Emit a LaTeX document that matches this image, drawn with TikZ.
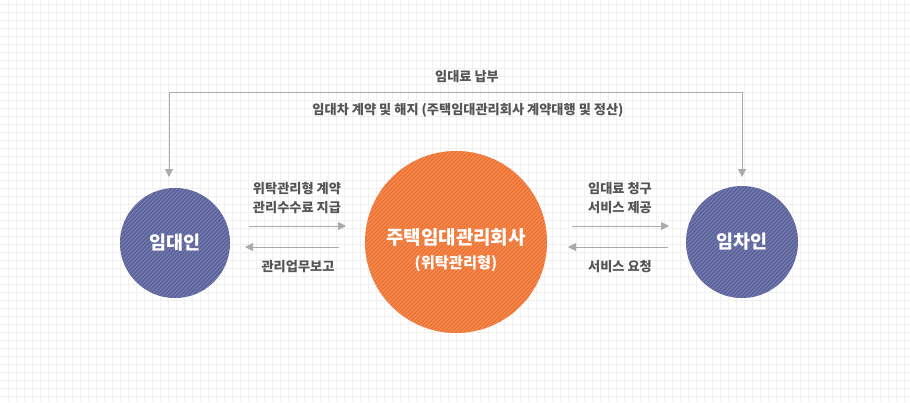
\documentclass[tikz,border=0pt]{standalone}
\usepackage{fontspec}
\newfontfamily\kr{Noto Sans CJK KR}
\usetikzlibrary{arrows.meta,calc}
\definecolor{gridc}{HTML}{F0F0F0}
\definecolor{txt}{HTML}{555555}
\definecolor{arrc}{HTML}{ABABAB}
\definecolor{bluec}{HTML}{5A619A}
\definecolor{bluel}{HTML}{7A80B0}
\definecolor{orc}{HTML}{EE7232}
\definecolor{orl}{HTML}{F4925A}
\begin{document}
\begin{tikzpicture}[x=1pt,y=-1pt,
  lbl/.style={font=\kr\bfseries\fontsize{13.2}{19}\selectfont, text=txt, align=center, inner sep=0pt},
  arr/.style={draw=arrc, line width=1pt, -{Triangle[width=8pt,length=8pt]}},
  hatch/.style={path picture={
     \foreach \s in {-220,-216,...,220}
       \draw[#1, line width=0.8pt] ($(path picture bounding box.center)+(\s-110,110)$) -- ++(220,-220);}},
  party/.style={circle, inner sep=0pt, text=white, font=\kr\bfseries\fontsize{18.5}{20}\selectfont}
]
\useasboundingbox (0,0) rectangle (910,402);
\fill[white] (0,0) rectangle (910,402);
\foreach \x in {8,16,...,904} \draw[gridc, line width=0.9pt] (\x,0) -- (\x,402);
\foreach \y in {4,12,...,400} \draw[gridc, line width=0.9pt] (0,\y) -- (910,\y);

\node[party, minimum size=110pt, fill=bluec, hatch=bluel] (landlord) at (175,243) {임대인};
\node[party, minimum size=112pt, fill=bluec, hatch=bluel] (tenant) at (742,242) {임차인};
\node[circle, inner sep=0pt, minimum size=182pt, fill=orc, hatch=orl] (company) at (456,242) {};
\node[text=white, font=\kr\bfseries\fontsize{19}{20}\selectfont, inner sep=0pt] (cname) at (456,237) {주택임대관리회사};
\node[text=white, font=\kr\bfseries\fontsize{15.3}{16}\selectfont, inner sep=0pt] (csub) at (456,264) {(위탁관리형)};

% top connector
\coordinate (lt) at (169,177);
\coordinate (rt) at (742,177);
\coordinate (ltop) at (169,92);
\coordinate (rtop) at (742,92);
\draw[arr, {Triangle[width=8pt,length=8pt]}-{Triangle[width=8pt,length=8pt]}] (lt) -- (ltop) -- (rtop) -- (rt);
\node[lbl] (pay) at (467,77) {임대료 납부};
\node[lbl] (contract) at (468,110) {임대차 계약 및 해지 (주택임대관리회사 계약대행 및 정산)};

% left arrows
\coordinate (a1s) at (249,226); \coordinate (a1e) at (346,226);
\coordinate (a2s) at (339,247); \coordinate (a2e) at (245,247);
\draw[arr] (a1s) -- (a1e);
\draw[arr] (a2s) -- (a2e);
\node[lbl] (l1) at (297,198) {위탁관리형 계약\\관리수수료 지급};
\node[lbl] (l2) at (298,267) {관리업무보고};

% right arrows
\coordinate (b1s) at (572,226); \coordinate (b1e) at (669,226);
\coordinate (b2s) at (668,247); \coordinate (b2e) at (568,247);
\draw[arr] (b1s) -- (b1e);
\draw[arr] (b2s) -- (b2e);
\node[lbl] (r1) at (620,198) {임대료 청구\\서비스 제공};
\node[lbl] (r2) at (620,267) {서비스 요청};
\end{tikzpicture}
\end{document}
